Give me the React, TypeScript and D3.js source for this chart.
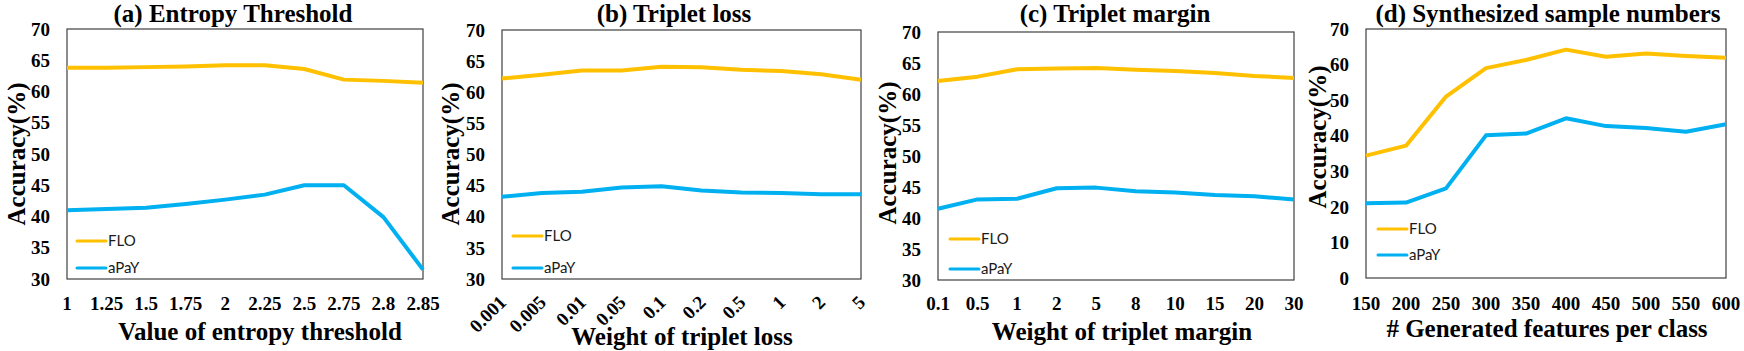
import * as d3 from "d3";

const entropyTicks = ["1", "1.25", "1.5", "1.75", "2", "2.25", "2.5", "2.75", "2.8", "2.85"];
const entropyFLO = [63.8, 63.8, 63.9, 64.0, 64.2, 64.2, 63.6, 61.9, 61.7, 61.4];
const entropyAPY = [41.0, 41.2, 41.4, 42.0, 42.7, 43.5, 45.0, 45.0, 39.9, 31.5];

const lossTicks = ["0.001", "0.005", "0.01", "0.05", "0.1", "0.2", "0.5", "1", "2", "5"];
const lossFLO = [62.2, 62.8, 63.5, 63.5, 64.1, 64.0, 63.6, 63.4, 62.9, 62.0];
const lossAPY = [43.2, 43.8, 44.0, 44.7, 44.9, 44.2, 43.9, 43.8, 43.6, 43.6];

const marginTicks = ["0.1", "0.5", "1", "2", "5", "8", "10", "15", "20", "30"];
const marginFLO = [62.1, 62.8, 64.0, 64.1, 64.2, 63.9, 63.7, 63.4, 62.9, 62.6];
const marginAPY = [41.5, 43.0, 43.1, 44.8, 44.9, 44.3, 44.1, 43.7, 43.5, 43.0];

const sampleTicks = ["150", "200", "250", "300", "350", "400", "450", "500", "550", "600"];
const sampleFLO = [34.4, 37.2, 51.0, 59.0, 61.3, 64.2, 62.2, 63.1, 62.4, 61.9];
const sampleAPY = [21.0, 21.2, 25.2, 40.1, 40.6, 44.9, 42.7, 42.2, 41.1, 43.2];

const seriesNames = ["FLO", "aPaY"];
const colors = ["#FFC000", "#00B0F0"];

const serif = "Liberation Serif, DejaVu Serif, serif";

const panels = [
  {
    title: "(a) Entropy Threshold", xTitle: "Value of entropy threshold",
    ticks: entropyTicks, series: [entropyFLO, entropyAPY],
    yDomain: [30, 70], yTicks: d3.range(30, 71, 5), rotate: false,
    box: { l: 67, r: 423, t: 29, b: 279 },
    titleX: 233, xTitleX: 260, xTitleY: 340, yTitleX: 16, yTitleY: 154,
    legend: { x: 77, y1: 241, y2: 268 },
  },
  {
    title: "(b) Triplet loss", xTitle: "Weight of triplet loss",
    ticks: lossTicks, series: [lossFLO, lossAPY],
    yDomain: [30, 70], yTicks: d3.range(30, 71, 5), rotate: true,
    box: { l: 502, r: 861, t: 30, b: 279 },
    titleX: 674, xTitleX: 682, xTitleY: 345, yTitleX: 450, yTitleY: 154,
    legend: { x: 513, y1: 236, y2: 268 },
  },
  {
    title: "(c) Triplet margin", xTitle: "Weight of triplet margin",
    ticks: marginTicks, series: [marginFLO, marginAPY],
    yDomain: [30, 70], yTicks: d3.range(30, 71, 5), rotate: false,
    box: { l: 938, r: 1294, t: 32, b: 280 },
    titleX: 1115, xTitleX: 1122, xTitleY: 340, yTitleX: 887, yTitleY: 153,
    legend: { x: 950, y1: 239, y2: 269 },
  },
  {
    title: "(d) Synthesized sample numbers", xTitle: "# Generated features per class",
    ticks: sampleTicks, series: [sampleFLO, sampleAPY],
    yDomain: [0, 70], yTicks: d3.range(0, 71, 10), rotate: false,
    box: { l: 1366, r: 1726, t: 29, b: 278 },
    titleX: 1548, xTitleX: 1547, xTitleY: 337, yTitleX: 1317, yTitleY: 137,
    legend: { x: 1378, y1: 229, y2: 255 },
  },
];

function Panel({ p }: { p: (typeof panels)[number] }) {
  const { box } = p;
  const x = d3.scalePoint<string>().domain(p.ticks).range([box.l, box.r]).padding(0);
  const y = d3.scaleLinear().domain(p.yDomain).range([box.b, box.t]);
  const line = d3
    .line<number>()
    .x((_, i) => x(p.ticks[i]) as number)
    .y((v) => y(v));

  const txt = { fontFamily: serif, fontWeight: 700 };

  return (
    <g>
      <text x={p.titleX} y={22} textAnchor="middle" style={{ ...txt, fontSize: 25 }}>
        {p.title}
      </text>
      <rect x={box.l} y={box.t} width={box.r - box.l} height={box.b - box.t} fill="none" stroke="#404040" strokeWidth={1.2} />
      {p.yTicks.map((t) => (
        <text key={t} x={box.l - 17} y={y(t)} dy="0.35em" textAnchor="end" style={{ ...txt, fontSize: 19 }}>
          {t}
        </text>
      ))}
      {p.ticks.map((t) =>
        p.rotate ? (
          <text
            key={t}
            transform={`translate(${(x(t) as number) - 4},${294}) rotate(-45)`}
            textAnchor="end"
            dy="0.7em"
            style={{ ...txt, fontSize: 19 }}
          >
            {t}
          </text>
        ) : (
          <text key={t} x={x(t)} y={310} textAnchor="middle" style={{ ...txt, fontSize: 19 }}>
            {t}
          </text>
        )
      )}
      {p.series.map((s, i) => (
        <path key={i} d={line(s) ?? ""} fill="none" stroke={colors[i]} strokeWidth={4} strokeLinejoin="round" />
      ))}
      {seriesNames.map((n, i) => {
        const ly = i === 0 ? p.legend.y1 : p.legend.y2;
        return (
          <g key={n}>
            <line x1={p.legend.x} x2={p.legend.x + 29} y1={ly} y2={ly} stroke={colors[i]} strokeWidth={3} strokeLinecap="round" />
            <text x={p.legend.x + 31} y={ly} dy="0.36em" style={{ fontFamily: "Lato, Open Sans, sans-serif", fontSize: 15 }} fill="#1a1a1a">
              {n}
            </text>
          </g>
        );
      })}
      <text x={p.xTitleX} y={p.xTitleY} textAnchor="middle" style={{ ...txt, fontSize: 25 }}>
        {p.xTitle}
      </text>
      <text
        transform={`translate(${p.yTitleX},${p.yTitleY}) rotate(-90)`}
        textAnchor="middle"
        dy="0.35em"
        style={{ ...txt, fontSize: 25 }}
      >
        Accuracy(%)
      </text>
    </g>
  );
}

export default function App() {
  return (
    <svg width={1744} height={351} style={{ position: "absolute", left: 0, top: 0, background: "#fff" }}>
      <rect width={1744} height={351} fill="#fff" />
      {panels.map((p) => (
        <Panel key={p.title} p={p} />
      ))}
    </svg>
  );
}
